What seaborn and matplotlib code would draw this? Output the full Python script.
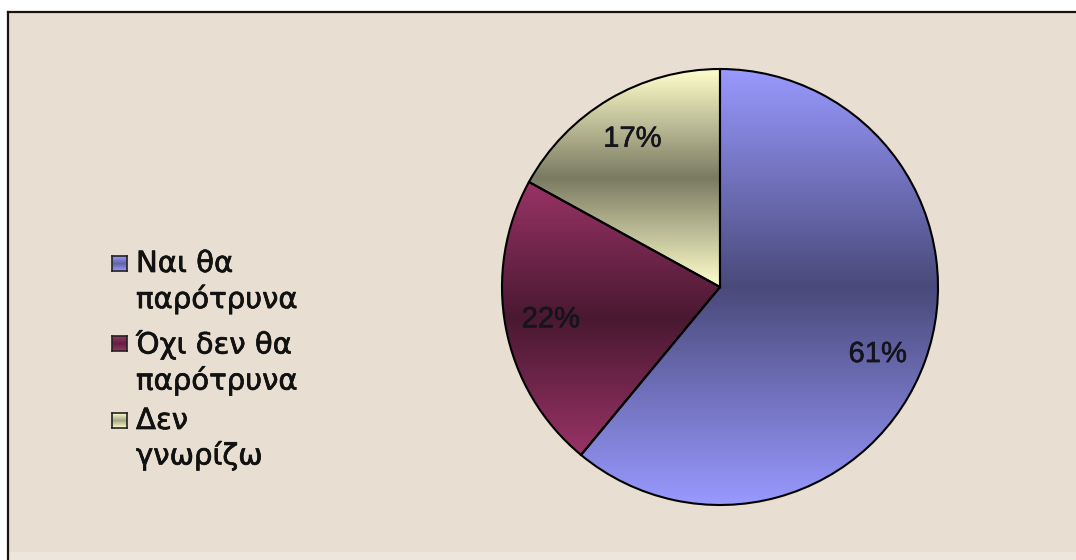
import numpy as np
import matplotlib
matplotlib.use("Agg")
import matplotlib.pyplot as plt
import matplotlib.patheffects as pe
import seaborn as sns
from matplotlib.patches import Rectangle

# Survey answers: would you encourage it?
categories = ["Ναι θα\nπαρότρυνα", "Όχι δεν θα\nπαρότρυνα", "Δεν\nγνωρίζω"]
shares = [61, 22, 17]
slice_colors = ["#9999ff", "#993366", "#ffffcc"]

sns.set_theme(style="white")
plt.rcParams["font.family"] = ["Liberation Sans", "DejaVu Sans"]

W, H = 1076, 560
fig = plt.figure(figsize=(W / 100, H / 100), dpi=100)
fig.patch.set_facecolor("white")


def shaded(col, n=256, depth=0.52):
    """Column of colours: light at both ends, darker towards the middle."""
    t = np.linspace(0, 1, n)
    f = 1 - np.abs(2 * t - 1)
    base = np.array(matplotlib.colors.to_rgb(col))
    return (base[None, :] * (1 - depth * f)[:, None])[:, None, :]


# parchment panel with a dark top/left frame
bg = fig.add_axes([8 / W, 0, 1 - 8 / W, (H - 12) / H])
bg.set_facecolor("#e8dfd2")
bg.set_xticks([])
bg.set_yticks([])
for side in ("right", "bottom"):
    bg.spines[side].set_visible(False)
for side in ("top", "left"):
    bg.spines[side].set_color("#1a1410")
    bg.spines[side].set_linewidth(1.6)
bg.add_patch(Rectangle((0, 0), 1, 8 / (H - 12), transform=bg.transAxes,
                       facecolor="#ece6dc", edgecolor="none"))

# pie axes
cx, cy, r = 720, 287, 218
ax = fig.add_axes([(cx - r) / W, (H - cy - r) / H, 2 * r / W, 2 * r / H])
ax.set_facecolor("none")
wedges, texts, autotexts = ax.pie(
    shares, colors=slice_colors, startangle=90, counterclock=False,
    autopct="%1.0f%%", pctdistance=0.79,
    wedgeprops=dict(edgecolor="black", linewidth=1.5),
    textprops=dict(fontsize=21, color="#14141c"),
)

# vertical shading in each slice: light at its top and bottom, dark in the middle
for w, col in zip(wedges, slice_colors):
    ang = np.linspace(np.deg2rad(w.theta1), np.deg2rad(w.theta2), 400)
    ys = np.concatenate([np.sin(ang) * w.r, [0.0]])
    im = ax.imshow(shaded(col), extent=[-1, 1, ys.min(), ys.max()],
                   origin="lower", aspect="auto", zorder=0.5,
                   interpolation="bilinear")
    im.set_clip_path(w)
    w.set_facecolor("none")
    w.set_zorder(1)
heavier = [pe.withStroke(linewidth=0.4, foreground="#14141c")]
for t in autotexts:
    t.set_zorder(3)
    t.set_path_effects(heavier)
# the big slice's label sits a little lower than its bisector
autotexts[0].set_position((autotexts[0].get_position()[0] - 0.02,
                           autotexts[0].get_position()[1] - 0.04))
ax.set_xlim(-1, 1)
ax.set_ylim(-1, 1)
ax.axis("off")

# legend: shaded square swatches beside wrapped labels
leg_rows = [263, 343, 420]
for lab, col, yc in zip(categories, slice_colors, leg_rows):
    sw = fig.add_axes([112 / W, (H - yc - 8) / H, 15 / W, 15 / H])
    sw.imshow(shaded(col, depth=0.35), aspect="auto", extent=[0, 1, 0, 1])
    sw.set_xticks([])
    sw.set_yticks([])
    for s in sw.spines.values():
        s.set_color("#222222")
        s.set_linewidth(1.2)
    fig.text(136 / W, (H - yc + 13) / H, lab, fontsize=21, color="#111111",
             va="top", ha="left", linespacing=1.28, family="DejaVu Sans",
             path_effects=[pe.withStroke(linewidth=0.5, foreground="#111111")])

fig.savefig("out.png", dpi=100)
